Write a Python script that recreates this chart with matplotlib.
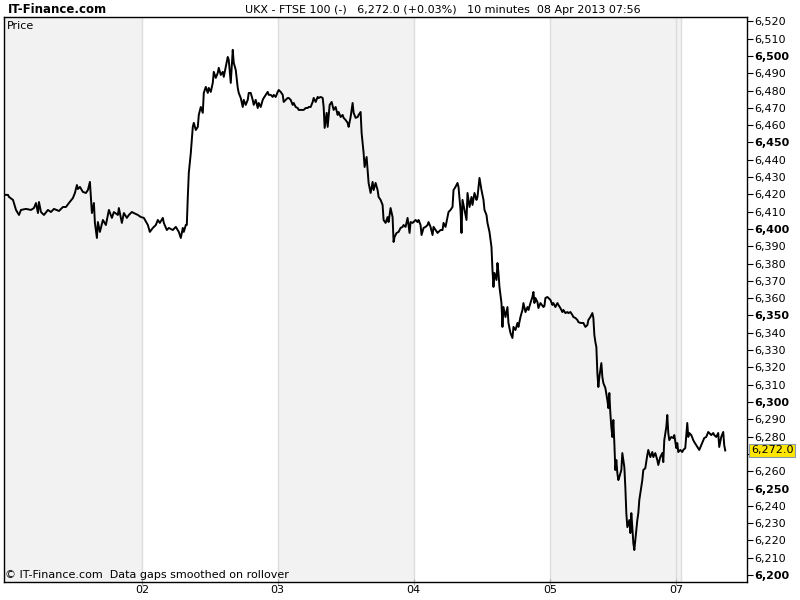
import numpy as np
import matplotlib
matplotlib.use("Agg")
import matplotlib.pyplot as plt

# 10-minute bar index and price
bars = [0, 3, 4, 8, 11, 14, 16, 21, 26, 29, 31, 33, 34, 36, 39, 43, 46, 49, 54, 58,
        61, 64, 68, 70, 72, 73, 75, 78, 81, 83, 85, 86, 87, 89, 90, 92, 93, 95, 98, 101,
        104, 107, 109, 113, 114, 117, 119, 122, 124, 127, 129, 133, 136, 139, 143, 145, 148, 151, 153, 155,
        158, 159, 162, 164, 168, 171, 174, 176, 178, 179, 181, 182, 183, 184, 186, 188, 189, 191, 193, 194,
        196, 198, 199, 201, 203, 204, 206, 208, 209, 211, 213, 214, 216, 218, 219, 221, 223, 224, 226, 228,
        229, 231, 233, 234, 236, 238, 239, 241, 243, 244, 246, 248, 249, 251, 253, 254, 256, 258, 259, 261,
        263, 264, 266, 268, 269, 271, 273, 274, 276, 278, 279, 281, 283, 284, 286, 288, 289, 291, 293, 294,
        296, 298, 299, 301, 303, 304, 306, 308, 309, 311, 313, 314, 316, 318, 319, 320, 322, 323, 325, 327,
        329, 331, 333, 334, 336, 338, 339, 341, 343, 344, 346, 348, 349, 351, 353, 354, 356, 357, 359, 360,
        362, 363, 364, 366, 368, 369, 371, 373, 374, 376, 378, 379, 381, 383, 384, 386, 388, 389, 390, 392,
        394, 396, 398, 399, 401, 403, 405, 406, 408, 409, 411, 413, 414, 416, 417, 419, 421, 423, 424, 426,
        428, 429, 431, 433, 434, 436, 438, 439, 441, 443, 444, 446, 448, 449, 451, 453, 454, 456, 457, 458,
        460, 462, 463, 465, 467, 468, 470, 472, 473, 475, 477, 479, 480, 482, 483, 485, 487, 488, 489, 490,
        492, 493, 494, 495, 497, 498, 499, 501, 503, 504, 506, 508, 509, 511, 513, 514, 516, 518, 519, 521,
        523, 524, 526, 528, 529, 530, 531, 533, 534, 536, 539, 540, 541, 543, 544, 546, 548, 549, 551, 553,
        554, 556, 558, 559, 561, 563, 564, 566, 568, 569, 571, 573, 574, 576, 578, 579, 581, 583, 584, 586,
        588, 589, 590, 591, 592, 593, 594, 595, 596, 597, 598, 599, 601, 603, 604, 605, 606, 607, 608, 609,
        610, 611, 612, 613, 614, 615, 617, 618, 619, 620, 621, 622, 623, 625, 626, 627, 628, 629, 630, 631,
        633, 634, 635, 637, 638, 639, 641, 643, 644, 646, 648, 649, 651, 653, 654, 656, 658, 659, 660, 662,
        663, 664, 665, 667, 669, 670, 672, 673, 674, 676, 678, 679, 681, 683, 684, 685, 687, 689, 690, 692,
        694, 695, 697, 699, 700, 702, 704, 705, 707, 709, 710, 712, 714, 715, 717, 719, 720, 721]

price = [6419.7, 6419.7, 6418.5, 6416.8, 6411.0, 6408.1, 6411.0, 6411.6, 6411.0, 6412.1,
         6415.0, 6409.2, 6415.6, 6409.8, 6408.1, 6411.0, 6409.8, 6411.6, 6410.4, 6412.7,
         6412.7, 6415.0, 6417.9, 6420.8, 6425.4, 6423.1, 6424.3, 6421.4, 6420.8, 6422.5,
         6427.2, 6418.5, 6409.2, 6415.0, 6403.5, 6394.8, 6404.0, 6398.3, 6405.2, 6402.3,
         6411.0, 6406.4, 6409.8, 6408.1, 6412.1, 6403.5, 6409.2, 6406.4, 6408.1, 6409.8,
         6409.2, 6408.1, 6406.9, 6406.4, 6402.3, 6398.3, 6400.6, 6402.3, 6405.2, 6403.5,
         6406.4, 6403.5, 6399.4, 6400.6, 6399.4, 6401.2, 6398.3, 6394.8, 6400.6, 6398.3,
         6402.3, 6402.3, 6418.5, 6432.4, 6443.9, 6459.0, 6461.3, 6457.2, 6459.0, 6465.9,
         6470.5, 6467.1, 6478.6, 6482.1, 6478.6, 6481.5, 6479.2, 6484.4, 6490.8, 6487.3,
         6490.2, 6493.1, 6489.0, 6490.8, 6487.9, 6493.6, 6499.4, 6497.7, 6484.4, 6503.5,
         6496.0, 6491.9, 6481.5, 6478.6, 6475.7, 6470.5, 6474.6, 6471.7, 6474.6, 6478.6,
         6478.6, 6474.6, 6471.7, 6474.6, 6469.9, 6472.8, 6470.5, 6474.6, 6475.7, 6477.5,
         6479.2, 6477.5, 6477.5, 6476.3, 6477.5, 6476.3, 6479.2, 6480.3, 6479.2, 6477.5,
         6473.4, 6474.6, 6475.7, 6475.7, 6474.6, 6471.7, 6472.8, 6470.5, 6469.9, 6468.8,
         6468.8, 6468.8, 6468.8, 6469.9, 6469.9, 6470.5, 6470.5, 6473.4, 6475.7, 6473.4,
         6476.3, 6475.7, 6476.3, 6475.7, 6470.5, 6458.4, 6467.1, 6459.0, 6471.7, 6473.4,
         6468.8, 6470.5, 6465.9, 6467.6, 6464.7, 6465.9, 6464.2, 6463.0, 6461.3, 6459.0,
         6464.7, 6472.8, 6467.1, 6464.2, 6464.7, 6465.9, 6467.6, 6455.5, 6443.9, 6435.8,
         6441.6, 6434.1, 6426.6, 6420.8, 6427.2, 6422.5, 6426.6, 6422.5, 6418.5, 6416.8,
         6413.9, 6405.2, 6403.5, 6406.9, 6404.0, 6412.1, 6406.9, 6392.5, 6395.4, 6397.7,
         6398.3, 6400.6, 6401.2, 6402.3, 6401.2, 6406.4, 6397.7, 6404.0, 6403.5, 6404.0,
         6405.2, 6404.0, 6405.2, 6402.3, 6396.5, 6400.6, 6401.2, 6402.3, 6404.0, 6401.2,
         6396.5, 6401.2, 6399.4, 6397.7, 6398.3, 6399.4, 6399.4, 6403.5, 6401.2, 6406.9,
         6409.8, 6411.0, 6412.7, 6422.5, 6424.3, 6426.6, 6424.3, 6411.0, 6397.7, 6416.8,
         6411.0, 6405.2, 6420.8, 6412.7, 6418.5, 6413.9, 6420.8, 6416.8, 6418.5, 6429.5,
         6422.5, 6416.8, 6411.0, 6408.1, 6403.5, 6398.3, 6389.6, 6376.3, 6366.5, 6374.6,
         6370.5, 6380.3, 6374.6, 6366.5, 6357.2, 6343.4, 6354.9, 6349.1, 6354.9, 6345.7,
         6339.9, 6337.0, 6343.4, 6341.6, 6345.7, 6343.4, 6349.1, 6353.2, 6357.2, 6352.0,
         6354.9, 6353.2, 6357.2, 6360.7, 6363.6, 6357.2, 6360.1, 6357.8, 6354.3, 6357.2,
         6354.9, 6355.5, 6360.1, 6360.7, 6360.1, 6359.0, 6356.1, 6357.2, 6354.9, 6357.2,
         6356.1, 6354.3, 6352.0, 6353.2, 6351.4, 6352.0, 6351.4, 6352.0, 6350.3, 6349.1,
         6348.6, 6347.4, 6346.2, 6345.7, 6345.7, 6345.7, 6343.4, 6344.5, 6347.4, 6349.1,
         6351.4, 6348.6, 6338.7, 6334.7, 6331.8, 6316.8, 6308.7, 6314.5, 6318.5, 6322.5,
         6314.5, 6311.0, 6308.1, 6301.2, 6296.5, 6305.2, 6293.6, 6285.5, 6279.8, 6289.6,
         6276.3, 6260.7, 6266.5, 6259.0, 6254.9, 6256.6, 6260.7, 6270.5, 6266.5, 6262.4,
         6250.9, 6235.8, 6227.7, 6231.8, 6224.3, 6235.8, 6227.7, 6218.5, 6214.5, 6220.2,
         6231.8, 6235.8, 6243.4, 6250.9, 6254.9, 6260.7, 6261.8, 6269.4, 6272.3, 6268.2,
         6271.1, 6268.2, 6270.5, 6266.5, 6263.6, 6268.2, 6270.5, 6265.3, 6278.0, 6285.5,
         6292.5, 6282.1, 6278.0, 6279.8, 6279.2, 6280.9, 6273.4, 6276.3, 6271.1, 6272.3,
         6271.1, 6272.3, 6273.4, 6287.9, 6279.8, 6282.1, 6280.9, 6278.0, 6276.9, 6275.1,
         6273.4, 6272.3, 6275.1, 6278.0, 6279.2, 6279.8, 6282.7, 6282.1, 6280.9, 6282.1,
         6280.9, 6279.8, 6282.1, 6274.0, 6279.8, 6282.7, 6275.1, 6272.0]

# day separators (bar index) and labels
day_ticks = [137, 273, 409, 546, 672]
day_labels = ["02", "03", "04", "05", "07"]
day_bounds = [0, 137, 273, 409, 546, 677, 743]
last_price = 6272.0

fig = plt.figure(figsize=(8, 6), dpi=100)
ax = fig.add_axes([0.005, 0.03, 0.929, 0.9417])

# alternating day shading
for i in range(len(day_bounds) - 1):
    if i % 2 == 0:
        ax.axvspan(day_bounds[i], day_bounds[i + 1], color="#f2f2f2", lw=0, zorder=0)
for b in day_ticks + [677]:
    ax.axvline(b, color="#dcdcdc", lw=1, zorder=0.5)

ax.plot(bars, price, color="black", lw=1.4, zorder=3)

ax.set_xlim(-1, 743)
ax.set_ylim(6196, 6522.5)

yt = np.arange(6200, 6530, 10)
ax.yaxis.tick_right()
ax.set_yticks(yt)
# the 6,270 label sits under the last-price box
ax.set_yticklabels(["" if v == 6270 else f"{v:,}" for v in yt], fontsize=8)
for lab, v in zip(ax.get_yticklabels(), yt):
    if v % 50 == 0:
        lab.set_fontweight("bold")
ax.tick_params(axis="y", direction="out", length=4, width=0.8, pad=1, colors="black")

ax.set_xticks(day_ticks)
ax.set_xticklabels(day_labels, fontsize=8)
ax.tick_params(axis="x", direction="inout", length=5, width=0.8, pad=0, color="#aaaaaa",
               labelcolor="black")

for s in ax.spines.values():
    s.set_color("black")
    s.set_linewidth(1)

ax.text(0.004, 0.993, "Price", transform=ax.transAxes, fontsize=8, va="top", ha="left")
ax.text(0.002, 0.003, "© IT-Finance.com  Data gaps smoothed on rollover",
        transform=ax.transAxes, fontsize=8, va="bottom", ha="left")

ax.text(1.005, last_price, f"{last_price:,.1f}", transform=ax.get_yaxis_transform(),
        fontsize=8, va="center", ha="left", zorder=10, clip_on=False,
        bbox=dict(boxstyle="square,pad=0.15", fc="#ffe600", ec="#8899aa", lw=0.8))

fig.text(0.01, 0.984, "IT-Finance.com", fontsize=8.5, fontweight="bold",
         va="center", ha="left")
fig.text(0.554, 0.984, "UKX - FTSE 100 (-)   6,272.0 (+0.03%)   10 minutes  08 Apr 2013 07:56",
         fontsize=8, va="center", ha="center")

fig.savefig("out.png", dpi=100)
